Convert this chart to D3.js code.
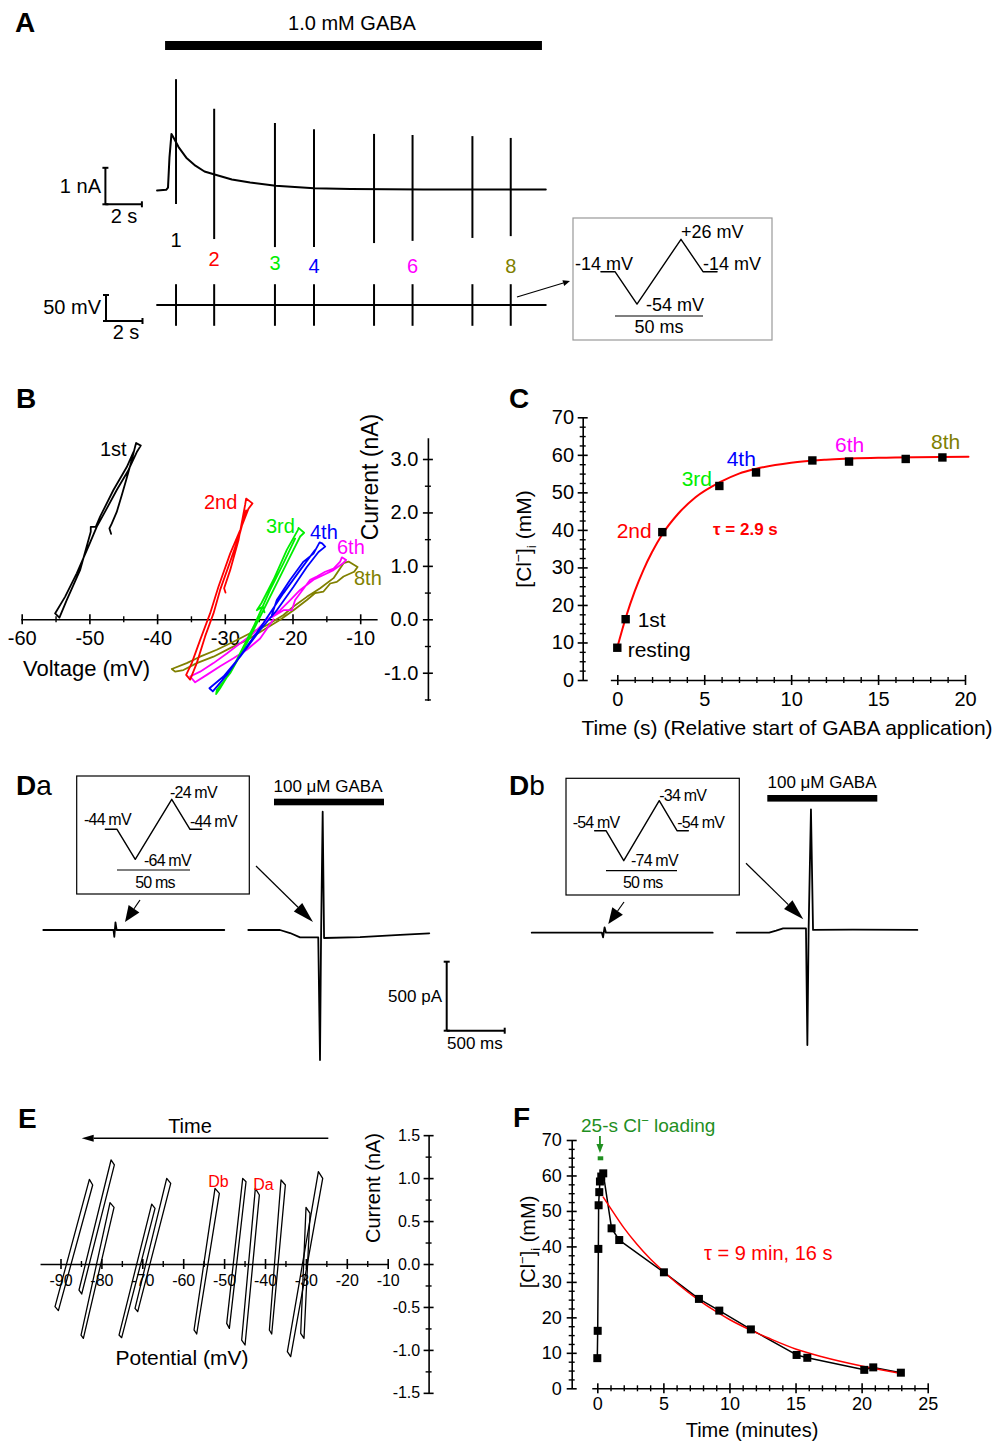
<!DOCTYPE html>
<html><head><meta charset="utf-8">
<script src="https://cdn.jsdelivr.net/npm/d3@7"></script>
<style>body{margin:0;background:#fff}</style>
</head><body><svg id="fig" width="999" height="1441"></svg>
<script>
const FONT = '"Liberation Sans", Arial, sans-serif';
const RED = "#ff0000", LIME = "#00ee00", BLUE = "#0000ff", MAG = "#ff00ff", OLIVE = "#808000", DKGREEN = "#1f8f1f";

// ---------- A: whole-cell current during 1 mM GABA (s, nA) ----------
const gabaT = [-0.6, -0.1, 0.0, 0.08, 0.19, 0.3, 0.58, 1.0, 1.5, 2.0, 2.6, 3.5, 4.5, 5.9, 8.0, 10, 14, 20.7];
const gabaI = [0, 0.02, 0.08, 0.9, 1.55, 1.45, 1.19, 0.9, 0.68, 0.52, 0.43, 0.3, 0.22, 0.13, 0.06, 0.04, 0.03, 0.03];
const spikeT = [0.44, 2.53, 5.86, 8.0, 11.29, 13.4, 16.68, 18.78];
const spikeTop = [3.05, 2.24, 1.85, 1.68, 1.55, 1.52, 1.49, 1.44];
const spikeBot = [-0.37, -1.33, -1.55, -1.55, -1.44, -1.38, -1.30, -1.25];
const spikeName = ["1", "2", "3", "4", "", "6", "", "8"];
const spikeColor = ["#000", RED, LIME, BLUE, "#000", MAG, "#000", OLIVE];
const gabaOn = [-0.16, 20.49];

// voltage ramp protocol (ms, relative shape); step size in mV per panel
const rampMs = [-8, 0, 12.5, 37.5, 50, 58];
const rampShape = [0, 0, -1, 1, 0, 0];
const rampStepA = 40, rampStepD = 20;

// ---------- B: I-V loops (mV, nA) ----------
const iv1st = [[-46.8,1.6],[-47.04,1.7],[-46.7,1.79],[-45.96,2.01],[-45.22,2.32],[-44.58,2.6],[-43.74,2.98],[-43.25,3.23],[-43.1,3.3],[-42.41,3.25],[-43.0,3.13],[-44.24,2.79],[-45.96,2.42],[-47.44,2.07],[-48.92,1.73],[-50.15,1.36],[-51.87,0.86],[-53.6,0.42],[-55.07,0.11],[-54.43,0.03],[-53.35,0.36],[-51.38,0.92],[-49.8,1.64],[-49.8,1.73],[-49.06,1.73],[-48.42,1.92],[-46.45,2.42],[-44.48,2.85],[-43.5,3.13]];
const iv2nd = [[-29.9,0.5],[-30.1,0.58],[-29.21,0.92],[-27.98,1.48],[-27.0,2.14],[-26.85,2.26],[-25.91,2.17],[-26.5,2.07],[-27.73,1.67],[-29.21,1.23],[-30.94,0.61],[-32.17,0.11],[-33.65,-0.39],[-34.88,-0.82],[-35.71,-1.04],[-35.12,-1.13],[-34.14,-0.82],[-32.91,-0.32],[-31.67,0.11],[-30.69,0.55],[-29.21,1.08],[-27.83,1.58],[-26.85,2.04]];
const iv3rd = [[-24.14,0.13],[-24.38,0.24],[-25.27,0.17],[-24.6,0.3],[-22.81,0.74],[-20.84,1.3],[-19.21,1.67],[-19.11,1.71],[-18.28,1.62],[-18.87,1.55],[-20.84,1.05],[-23.79,0.3],[-26.75,-0.45],[-29.21,-1.01],[-31.18,-1.32],[-31.28,-1.4],[-30.69,-1.29],[-28.72,-0.88],[-25.76,-0.14],[-23.3,0.55],[-21.33,1.05],[-19.61,1.51]];
const iv4th = [[-23.05,0.08],[-22.32,0.36],[-20.34,0.74],[-18.37,1.08],[-16.9,1.23],[-16.0,1.44],[-15.62,1.42],[-15.17,1.36],[-16.16,1.26],[-17.88,0.98],[-19.85,0.61],[-22.32,0.17],[-24.78,-0.2],[-27.73,-0.7],[-30.2,-1.07],[-32.27,-1.29],[-31.77,-1.35],[-29.7,-1.04],[-27.24,-0.6],[-24.29,-0.07],[-21.33,0.49],[-18.87,0.92],[-16.65,1.3]];
const iv6th = [[-23.05,0.04],[-21.33,0.17],[-20.1,0.17],[-19.61,0.36],[-17.39,0.74],[-16.4,0.8],[-15.17,0.89],[-13.94,0.95],[-12.96,1.08],[-12.71,1.16],[-12.07,1.11],[-12.46,1.06],[-13.94,0.92],[-15.42,0.83],[-16.9,0.74],[-18.87,0.55],[-20.34,0.36],[-21.82,0.17],[-23.79,-0.01],[-25.76,-0.26],[-27.73,-0.45],[-29.7,-0.64],[-31.67,-0.82],[-33.65,-0.98],[-35.12,-1.07],[-34.38,-1.18],[-32.66,-1.04],[-30.69,-0.88],[-28.72,-0.73],[-26.75,-0.57],[-24.78,-0.36],[-22.81,0.0]];
const iv8th = [[-37.83,-0.93],[-35.62,-0.82],[-33.65,-0.7],[-31.18,-0.57],[-28.72,-0.42],[-26.26,-0.26],[-23.79,-0.11],[-21.33,0.08],[-19.85,0.24],[-17.88,0.42],[-15.91,0.58],[-13.94,0.77],[-12.46,1.05],[-11.72,1.08],[-10.39,0.98],[-10.89,0.89],[-12.46,0.8],[-13.45,0.7],[-14.43,0.67],[-15.42,0.52],[-16.65,0.49],[-17.88,0.36],[-19.85,0.17],[-21.82,-0.01],[-24.29,-0.2],[-26.75,-0.39],[-29.21,-0.54],[-31.67,-0.7],[-34.14,-0.82],[-36.11,-0.95],[-37.34,-0.98],[-37.83,-0.93]];

// ---------- C: [Cl-]i during GABA (s, mM) ----------
const cT = [0, 0.48, 2.59, 5.87, 7.98, 11.22, 13.33, 16.59, 18.7];
const cCl = [8.6, 16.2, 39.4, 51.7, 55.3, 58.5, 58.2, 58.9, 59.3];
const cFitT = [0, 0.5, 1, 1.5, 2, 2.6, 3.5, 4.5, 5.9, 7, 8, 10, 12, 15, 20.2];
const cFitCl = [8.7, 16.8, 23.6, 29.3, 34.1, 38.9, 44.3, 48.7, 52.7, 55.0, 56.3, 57.9, 58.7, 59.2, 59.5];

// ---------- D: current traces (ms, pA) ----------
const daLeftT = [0, 605, 612, 622, 632, 1560];
const daLeftI = [0, 0, -50, 55, 0, 0];
const daRightT = [0, 273, 360, 446, 603, 618, 627, 641, 653, 963, 1308, 1560];
const daRightI = [0, 0, -22, -53, -54, -942, -54, 857, -58, -51, -36, -24];
const dbLeftT = [0, 605, 615, 628, 640, 1560];
const dbLeftI = [0, 0, -33, 39, 0, 0];
const dbRightT = [0, 280, 340, 400, 597, 609, 620, 640, 658, 1000, 1557];
const dbRightI = [0, 0, 15, 32, 32, -814, 28, 894, 20, 22, 20];

// ---------- E: successive I-V loops (mV, nA) ----------
const eLoops = [
  [[-91.34,-0.497],[-82.94,0.986],[-82.13,0.92],[-90.52,-0.543]],
  [[-85.47,-0.303],[-77.64,1.211],[-76.83,1.153],[-84.82,-0.349]],
  [[-84.98,-0.827],[-77.89,0.714],[-76.91,0.66],[-84.41,-0.865]],
  [[-75.69,-0.827],[-67.7,0.698],[-66.89,0.648],[-75.04,-0.858]],
  [[-71.78,-0.516],[-64.03,0.997],[-63.05,0.939],[-71.12,-0.555]],
  [[-57.35,-0.768],[-52.22,0.881],[-51.16,0.823],[-56.7,-0.815]],
  [[-49.36,-0.691],[-45.45,0.997],[-44.64,0.958],[-48.71,-0.749]],
  [[-45.7,-0.885],[-42.36,0.881],[-41.38,0.803],[-44.88,-0.943]],
  [[-38.93,-0.768],[-36.08,0.978],[-35.02,0.92],[-38.36,-0.815]],
  [[-34.53,-1.021],[-26.95,1.075],[-25.89,0.997],[-33.72,-1.079]],
  [[-31.27,-0.807],[-29.97,0.66],[-28.99,0.59],[-30.46,-0.865]]
];

// ---------- F: recovery of [Cl-]i (min, mM) ----------
const fT = [0, 0.03, 0.08, 0.1, 0.15, 0.2, 0.3, 0.45, 1.08, 1.66, 5.04, 7.69, 9.23, 11.62, 15.08, 15.89, 20.2, 20.88, 22.97];
const fCl = [8.5, 16.2, 39.3, 51.6, 55.3, 58.3, 59.7, 60.6, 45.1, 41.8, 32.7, 25.2, 21.9, 16.6, 9.4, 8.6, 5.2, 5.9, 4.4];
const fFitT = [0.45, 1, 2, 3, 4, 5, 6, 7.7, 9, 10, 11.6, 13, 15, 17, 20, 23];
const fFitCl = [53.9, 50.8, 45.3, 40.6, 36.5, 33.0, 29.7, 24.8, 21.6, 19.4, 16.4, 14.1, 11.1, 8.9, 6.3, 4.2];
const loading = [0.03, 0.45];

// ================= drawing helpers =================
const svg = d3.select("#fig");
svg.append("rect").attr("width", 999).attr("height", 1441).attr("fill", "#fff");

function lin(d0, r0, d1, r1, lo, hi) {
  const k = (r1 - r0) / (d1 - d0);
  return d3.scaleLinear().domain([lo, hi]).range([r0 + (lo - d0) * k, r0 + (hi - d0) * k]);
}

function label(x, y, s, o = {}) {
  return svg.append("text").attr("x", x).attr("y", y)
    .attr("font-family", FONT).attr("font-size", o.fs || 20)
    .attr("font-weight", o.bold ? "bold" : null)
    .attr("fill", o.color || "#000")
    .attr("text-anchor", o.anchor || "start")
    .attr("letter-spacing", o.ls || null)
    .attr("transform", o.rot ? `rotate(-90,${x},${y})` : null)
    .text(s);
}

function clLabel(x, y, fs) {
  const t = svg.append("text").attr("x", x).attr("y", y).attr("font-family", FONT)
    .attr("font-size", fs).attr("text-anchor", "middle").attr("transform", `rotate(-90,${x},${y})`);
  t.append("tspan").text("[Cl");
  t.append("tspan").attr("dy", -8).attr("font-size", fs * 0.65).text("\u2212");
  t.append("tspan").attr("dy", 8).text("]");
  t.append("tspan").attr("dy", 5).attr("font-size", fs * 0.65).text("i");
  t.append("tspan").attr("dy", -5).text(" (mM)");
}

function path(pts, sx, sy, color, sw, curve) {
  const ln = d3.line().x(d => sx(d[0])).y(d => sy(d[1]));
  if (curve) ln.curve(curve);
  return svg.append("path").attr("d", ln(pts)).attr("fill", "none")
    .attr("stroke", color).attr("stroke-width", sw)
    .attr("stroke-linejoin", "round").attr("stroke-linecap", "round");
}

function seg(x1, y1, x2, y2, color = "#000", sw = 1.5) {
  svg.append("line").attr("x1", x1).attr("y1", y1).attr("x2", x2).attr("y2", y2)
    .attr("stroke", color).attr("stroke-width", sw);
}

function arrow(x1, y1, x2, y2, len, w, color = "#000", sw = 1.2) {
  const a = Math.atan2(y2 - y1, x2 - x1);
  const bx = x2 - len * Math.cos(a), by = y2 - len * Math.sin(a);
  seg(x1, y1, bx, by, color, sw);
  const px = -Math.sin(a) * w / 2, py = Math.cos(a) * w / 2;
  svg.append("path").attr("d", `M${x2},${y2}L${bx + px},${by + py}L${bx - px},${by - py}Z`).attr("fill", color);
}

function bracket(x, y, h, w) {
  // scale bar: vertical h, horizontal w, with end caps
  seg(x, y - h, x, y, "#000", 2);
  seg(x, y, x + w, y, "#000", 2);
  seg(x - 3, y - h, x + 3, y - h, "#000", 2);
  seg(x + w, y - 3, x + w, y + 3, "#000", 2);
  seg(x - 3, y, x + 3, y, "#000", 2);
}

function axis(orient, scale, at, majors, minors, o) {
  const bottom = orient === "bottom";
  const mk = s => (bottom ? d3.axisBottom(s) : d3.axisLeft(s));
  const tr = bottom ? `translate(0,${at})` : `translate(${at},0)`;
  const a = svg.append("g").attr("transform", tr)
    .call(mk(scale).tickValues(majors).tickSizeInner(0).tickSizeOuter(0).tickPadding(o.pad).tickFormat(o.fmt));
  a.attr("font-family", FONT).attr("font-size", o.fs);
  a.selectAll("text").attr("fill", "#000");
  a.select(".domain").attr("stroke", "#000").attr("stroke-width", 1.6);
  a.selectAll(".tick line").attr(bottom ? "y1" : "x1", -o.maj).attr(bottom ? "y2" : "x2", o.maj)
    .attr("stroke", "#000").attr("stroke-width", 1.6);
  const m = svg.append("g").attr("transform", tr)
    .call(mk(scale).tickValues(minors).tickSizeInner(0).tickSizeOuter(0).tickFormat(""));
  m.select(".domain").remove();
  m.selectAll(".tick line").attr(bottom ? "y1" : "x1", -o.min).attr(bottom ? "y2" : "x2", o.min)
    .attr("stroke", "#000").attr("stroke-width", 1.4);
}

function inset(box, sx, sy, hold, step, barY, texts, stroke) {
  svg.append("rect").attr("x", box[0]).attr("y", box[1]).attr("width", box[2]).attr("height", box[3])
    .attr("fill", "#fff").attr("stroke", stroke).attr("stroke-width", 1.2);
  path(d3.zip(rampMs, rampShape.map(v => hold + v * step)), sx, sy, "#000", 1.4);
  seg(sx(0), barY, sx(50), barY, "#000", 1.2);
  texts.forEach(t => label(t[0], t[1], t[2], t[3]));
}

// ================= Panel A =================
label(15, 32, "A", { fs: 28, bold: true });
const xA = d3.scaleLinear().domain([0, 20]).range([168, 533]);
const yA = d3.scaleLinear().domain([0, 1]).range([190.5, 154]);
const vA = d3.scaleLinear().domain([-14, 26]).range([305, 284.2]);

svg.append("rect").attr("x", xA(gabaOn[0])).attr("y", 41).attr("width", xA(gabaOn[1]) - xA(gabaOn[0]))
  .attr("height", 9).attr("fill", "#000");
label(352, 30, "1.0 mM GABA", { fs: 20, anchor: "middle" });

path(d3.zip(gabaT, gabaI), xA, yA, "#000", 2);
svg.selectAll(".spk").data(spikeT).join("line").attr("class", "spk")
  .attr("x1", d => xA(d)).attr("x2", d => xA(d))
  .attr("y1", (d, i) => yA(spikeTop[i])).attr("y2", (d, i) => yA(spikeBot[i]))
  .attr("stroke", "#000").attr("stroke-width", 2);
const spkLabY = [247, 266, 270, 273, 273, 273, 273, 273];
spikeT.forEach((t, i) => {
  if (spikeName[i]) label(xA(t), spkLabY[i], spikeName[i], { fs: 20, anchor: "middle", color: spikeColor[i] });
});

// voltage command trace
path([[gabaT[0], -14], [gabaT[gabaT.length - 1], -14]], xA, vA, "#000", 2);
svg.selectAll(".vtk").data(spikeT).join("line").attr("class", "vtk")
  .attr("x1", d => xA(d)).attr("x2", d => xA(d))
  .attr("y1", vA(-14 + rampStepA)).attr("y2", vA(-14 - rampStepA))
  .attr("stroke", "#000").attr("stroke-width", 2);

bracket(105.4, 204.3, yA(0) - yA(1), xA(2) - xA(0));
label(101, 193, "1 nA", { fs: 20, anchor: "end" });
label(124, 223, "2 s", { fs: 20, anchor: "middle" });
bracket(106, 321, vA(-14) - vA(36), xA(2) - xA(0));
label(101, 314, "50 mV", { fs: 20, anchor: "end" });
label(126, 339, "2 s", { fs: 20, anchor: "middle" });

arrow(517, 297, 570, 281, 7, 6, "#000", 1.2);
const xiA = d3.scaleLinear().domain([0, 50]).range([615, 703]);
const yiA = d3.scaleLinear().domain([-14, 26]).range([271.7, 239.3]);
inset([573, 218, 199, 122], xiA, yiA, -14, rampStepA, 316, [
  [575, 270, "-14 mV", { fs: 18 }], [681, 238, "+26 mV", { fs: 18 }],
  [703, 270, "-14 mV", { fs: 18 }], [646, 311, "-54 mV", { fs: 18 }],
  [659, 333, "50 ms", { fs: 18, anchor: "middle" }]
], "#999");

// ================= Panel B =================
label(16, 408, "B", { fs: 28, bold: true });
const xB = lin(-60, 21.7, -10, 360.2, -60.15, -7.5);
const yB = lin(0, 619.3, 3, 459, -1.52, 3.4);
axis("bottom", xB, yB(0), [-60, -50, -40, -30, -20, -10], [-55, -45, -35, -25, -15],
  { pad: 11.5, fs: 20, maj: 5, min: 3, fmt: d => String(d) });
const xB0 = lin(-60, 21.7, -10, 360.2, -60, 0)(0);
axis("left", yB, xB0, [-1, 0, 1, 2, 3], [-1.5, -0.5, 0.5, 1.5, 2.5],
  { pad: 9.5, fs: 20, maj: 5, min: 3, fmt: d => d.toFixed(1) });
label(23, 676, "Voltage (mV)", { fs: 22 });
label(378, 477, "Current (nA)", { fs: 23, anchor: "middle", rot: true });

[[iv8th, OLIVE], [iv6th, MAG], [iv3rd, LIME], [iv4th, BLUE], [iv2nd, RED], [iv1st, "#000"]]
  .forEach(([pts, c]) => path(pts, xB, yB, c, 1.8));
label(100, 456, "1st", { fs: 20 });
label(204, 509, "2nd", { fs: 20, color: RED });
label(266, 533, "3rd", { fs: 20, color: LIME });
label(310, 539, "4th", { fs: 20, color: BLUE });
label(337, 554, "6th", { fs: 20, color: MAG });
label(354, 585, "8th", { fs: 20, color: OLIVE });

// ================= Panel C =================
label(509, 408, "C", { fs: 28, bold: true });
const xC = lin(0, 617.3, 20, 965, -0.4, 20);
const yC = lin(0, 680, 70, 417.3, 0, 70);
axis("bottom", xC, 680, [0, 5, 10, 15, 20], d3.range(1, 20).filter(v => v % 5),
  { pad: 11.8, fs: 20, maj: 5, min: 3, fmt: d => String(d) });
axis("left", yC, 582.7, d3.range(0, 71, 10), d3.range(2.5, 70, 2.5).filter(v => v % 10),
  { pad: 8.7, fs: 20, maj: 5, min: 3, fmt: d => String(d) });
path(d3.zip(cFitT, cFitCl), xC, yC, RED, 2, d3.curveMonotoneX);
svg.selectAll(".csq").data(d3.zip(cT, cCl)).join("rect").attr("class", "csq")
  .attr("x", d => xC(d[0]) - 4.2).attr("y", d => yC(d[1]) - 4.2).attr("width", 8.4).attr("height", 8.4).attr("fill", "#000");
label(787, 735, "Time (s) (Relative start of GABA application)", { fs: 21, anchor: "middle" });
clLabel(531, 539, 21);
label(627.7, 657, "resting", { fs: 21 });
label(637.7, 627, "1st", { fs: 21 });
label(616.7, 538, "2nd", { fs: 21, color: RED });
label(681.7, 486, "3rd", { fs: 21, color: LIME });
label(726.7, 466, "4th", { fs: 21, color: BLUE });
label(835, 452, "6th", { fs: 21, color: MAG });
label(931, 449, "8th", { fs: 21, color: OLIVE });
label(713, 535, "\u03c4 = 2.9 s", { fs: 17, bold: true, color: RED });

// ================= Panel D =================
const yDa = d3.scaleLinear().domain([0, 500]).range([930, 861]);
const yDb = d3.scaleLinear().domain([0, 500]).range([932.7, 863.7]);
const xDaL = d3.scaleLinear().domain([0, 1560]).range([43.3, 224.3]);
const xDaR = d3.scaleLinear().domain([0, 1560]).range([248.3, 429.3]);
const xDbL = d3.scaleLinear().domain([0, 1560]).range([531.7, 712.7]);
const xDbR = d3.scaleLinear().domain([0, 1560]).range([736.7, 917.7]);

const dLetter = (x, y, sub) => {
  const t = svg.append("text").attr("x", x).attr("y", y).attr("font-family", FONT).attr("font-size", 28);
  t.append("tspan").attr("font-weight", "bold").text("D");
  t.append("tspan").text(sub);
};
dLetter(16, 795, "a");
dLetter(509, 795, "b");

// Da
const xiDa = d3.scaleLinear().domain([0, 50]).range([117, 190]);
const yiDa = d3.scaleLinear().domain([-44, -24]).range([829.3, 799.3]);
inset([76.7, 776, 172.6, 118], xiDa, yiDa, -44, rampStepD, 870, [
  [84, 825, "-44 mV", { fs: 16, ls: -0.8 }], [170, 798, "-24 mV", { fs: 16, ls: -0.8 }],
  [190, 827, "-44 mV", { fs: 16, ls: -0.8 }], [144, 866, "-64 mV", { fs: 16, ls: -0.8 }],
  [155, 888, "50 ms", { fs: 16, ls: -0.8, anchor: "middle" }]
], "#000");
svg.append("rect").attr("x", xDaR(0) + 25.7).attr("y", 798.7).attr("width", 110).attr("height", 6.6).attr("fill", "#000");
label(328, 792, "100 \u03bcM GABA", { fs: 17, anchor: "middle" });
path(d3.zip(daLeftT, daLeftI), xDaL, yDa, "#000", 1.8);
path(d3.zip(daRightT, daRightI), xDaR, yDa, "#000", 1.8);
arrow(140, 900, 125, 922, 16, 13);
arrow(256, 866, 313, 922, 21, 12);
bracket(446.7, 1030.7, yDa(0) - yDa(500), xDaL(500) - xDaL(0));
label(442, 1002, "500 pA", { fs: 17, anchor: "end" });
label(447, 1049, "500 ms", { fs: 17 });

// Db
const xiDb = d3.scaleLinear().domain([0, 50]).range([606, 677]);
const yiDb = d3.scaleLinear().domain([-54, -34]).range([830.7, 800.7]);
inset([566, 778.3, 173.3, 116.7], xiDb, yiDb, -54, rampStepD, 870.7, [
  [572.7, 828, "-54 mV", { fs: 16, ls: -0.8 }], [659.3, 801, "-34 mV", { fs: 16, ls: -0.8 }],
  [677.3, 828, "-54 mV", { fs: 16, ls: -0.8 }], [631, 866, "-74 mV", { fs: 16, ls: -0.8 }],
  [642.7, 888, "50 ms", { fs: 16, ls: -0.8, anchor: "middle" }]
], "#000");
svg.append("rect").attr("x", xDbR(0) + 30.6).attr("y", 795).attr("width", 110).attr("height", 6.6).attr("fill", "#000");
label(822, 788, "100 \u03bcM GABA", { fs: 17, anchor: "middle" });
path(d3.zip(dbLeftT, dbLeftI), xDbL, yDb, "#000", 1.8);
path(d3.zip(dbRightT, dbRightI), xDbR, yDb, "#000", 1.8);
arrow(624, 902, 608.3, 924, 16, 13);
arrow(746, 863.3, 803.3, 919.3, 21, 12);

// ================= Panel E =================
label(18, 1128, "E", { fs: 28, bold: true });
const xE = lin(-90, 60.5, -10, 387.7, -95, -10);
const yE = lin(0, 1264, 1, 1178.1, -1.5, 1.5);
axis("bottom", xE, yE(0), d3.range(-90, -9, 10), d3.range(-85, -14, 10),
  { pad: 10.6, fs: 16, maj: 5, min: 3, fmt: d => String(d) });
axis("left", yE, lin(-90, 60.5, -10, 387.7, -90, 0)(0), d3.range(-1.5, 1.6, 0.5), d3.range(-1.25, 1.3, 0.5),
  { pad: 8.4, fs: 16, maj: 5, min: 3, fmt: d => d.toFixed(1) });
eLoops.forEach(pts => path(pts.concat([pts[0]]), xE, yE, "#000", 1.3));
label(190, 1133, "Time", { fs: 20, anchor: "middle" });
arrow(328.3, 1138.3, 81.7, 1138.3, 12, 7, "#000", 1.6);
label(208.3, 1187, "Db", { fs: 16, color: RED });
label(253.3, 1189.5, "Da", { fs: 16, color: RED });
label(182, 1365, "Potential (mV)", { fs: 21, anchor: "middle" });
label(380, 1188, "Current (nA)", { fs: 20, anchor: "middle", rot: true });

// ================= Panel F =================
label(513, 1127, "F", { fs: 28, bold: true });
const xF = lin(0, 597.3, 25, 927.7, -0.42, 25);
const yF = lin(0, 1388.3, 70, 1140, 0, 70);
axis("bottom", xF, 1388.3, d3.range(0, 26, 5), d3.range(1, 25, 1).filter(v => v % 5),
  { pad: 8.9, fs: 18, maj: 5, min: 3, fmt: d => String(d) });
axis("left", yF, 571.7, d3.range(0, 71, 10), d3.range(2.5, 70, 2.5).filter(v => v % 10),
  { pad: 10, fs: 18, maj: 5, min: 3, fmt: d => String(d) });
path(d3.zip(fT, fCl), xF, yF, "#000", 1.5);
path(d3.zip(fFitT, fFitCl), xF, yF, RED, 1.5, d3.curveMonotoneX);
svg.selectAll(".fsq").data(d3.zip(fT, fCl)).join("rect").attr("class", "fsq")
  .attr("x", d => xF(d[0]) - 4).attr("y", d => yF(d[1]) - 4).attr("width", 8).attr("height", 8).attr("fill", "#000");
const gl = svg.append("text").attr("x", 581).attr("y", 1132).attr("font-family", FONT).attr("font-size", 19).attr("fill", DKGREEN);
gl.append("tspan").text("25-s Cl");
gl.append("tspan").attr("dy", -7).attr("font-size", 13).text("\u2212");
gl.append("tspan").attr("dy", 7).text(" loading");
arrow(xF(0.2), 1136, xF(0.2), 1153, 9, 7, DKGREEN, 1.8);
seg(xF(loading[0]), 1158.3, xF(loading[1]), 1158.3, DKGREEN, 4);
label(704, 1260, "\u03c4 = 9 min, 16 s", { fs: 20, color: RED });
label(752, 1437, "Time (minutes)", { fs: 20, anchor: "middle" });
clLabel(535, 1242, 20);
</script></body></html>
